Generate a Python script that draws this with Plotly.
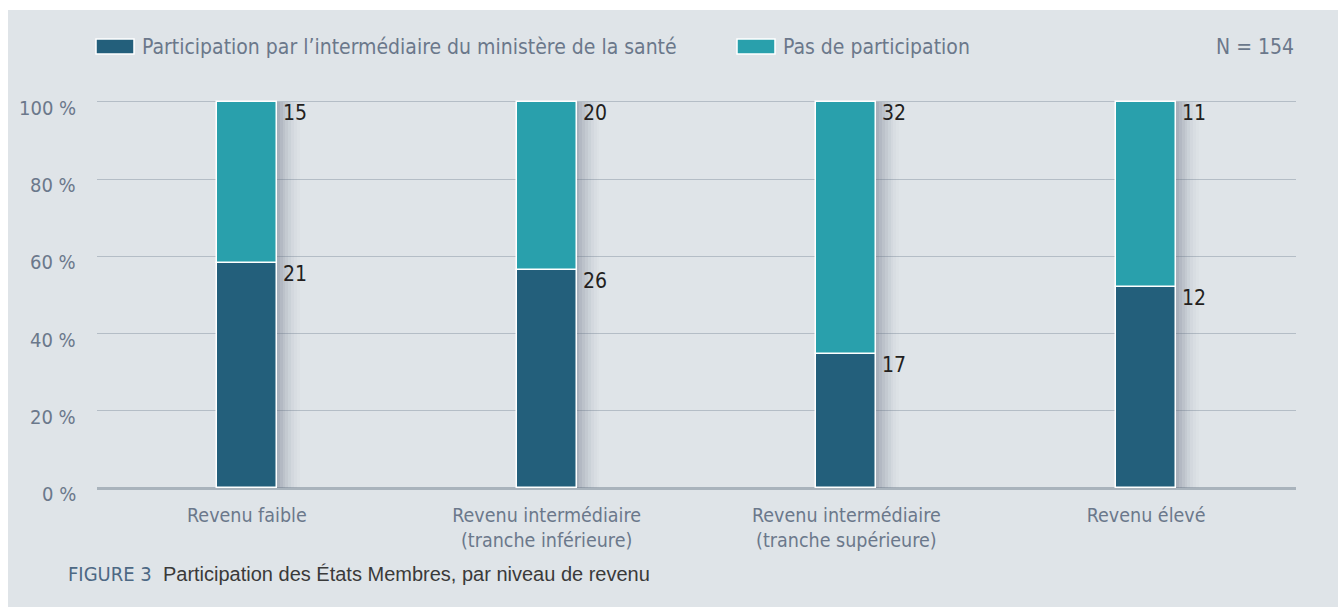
import plotly.graph_objects as go

categories = ["Revenu faible", "Revenu intermédiaire<br>(tranche inférieure)",
              "Revenu intermédiaire<br>(tranche supérieure)", "Revenu élevé"]
participation = [21, 26, 17, 12]
no_participation = [15, 20, 32, 11]
series_names = ["Participation par l’intermédiaire du ministère de la santé", "Pas de participation"]
y_ticks = [0, 20, 40, 60, 80, 100]
y_tick_labels = ["0 %", "20 %", "40 %", "60 %", "80 %", "100 %"]
n_total = sum(participation) + sum(no_participation)

DARK = "#235f7b"
LIGHT = "#29a0ac"
BG = "#dfe4e8"
AXIS_TXT = "#6b788b"
FONT = "DejaVu Sans Condensed, Roboto, sans-serif"

totals = [a + b for a, b in zip(participation, no_participation)]
pct_dark = [100 * a / t for a, t in zip(participation, totals)]
pct_light = [100 * b / t for b, t in zip(no_participation, totals)]
xs = list(range(len(categories)))
BW = 0.2

fig = go.Figure()

# soft shadow to the right of each bar
n_strips = 8
strip_w = 0.0095
for k in range(n_strips):
    alpha = 0.42 * (1 - k / n_strips) ** 1.5
    fig.add_trace(go.Bar(
        x=[x + BW / 2 + strip_w * (k + 0.5) for x in xs], y=[100] * len(xs), base=0,
        width=strip_w, marker=dict(color=f"rgba(95,105,125,{alpha:.3f})", line=dict(width=0)),
        showlegend=False, hoverinfo="skip"))

fig.add_trace(go.Bar(
    x=xs, y=pct_dark, base=0, width=BW, name=series_names[0],
    marker=dict(color=DARK, line=dict(color="white", width=1.5)),
    showlegend=False))
fig.add_trace(go.Bar(
    x=xs, y=pct_light, base=pct_dark, width=BW, name=series_names[1],
    marker=dict(color=LIGHT, line=dict(color="white", width=1.5)),
    showlegend=False))

# value labels
for x, pd_, pl, a, b in zip(xs, pct_dark, pct_light, participation, no_participation):
    for top, val in ((pd_ + pl, b), (pd_, a)):
        fig.add_annotation(x=x + BW / 2, y=top, text=str(val), showarrow=False,
                           xanchor="left", yanchor="top", xshift=4, yshift=3,
                           font=dict(family=FONT, size=21, color="#231f20"))

# y tick labels (slightly below gridlines, as in the reference)
for v, lab in zip(y_ticks, y_tick_labels):
    fig.add_annotation(xref="paper", x=-0.0158, y=v, text=lab, showarrow=False,
                       xanchor="right", yanchor="middle", yshift=-6,
                       font=dict(family=FONT, size=20, color=AXIS_TXT))

W, H = 1338, 609
L, R, T, B = 97, 42, 98, 121
pw, ph = W - L - R, H - T - B


def px(xp):
    return (xp - L) / pw


def py(yp):
    return (H - B - yp) / ph


shapes = [
    dict(type="rect", xref="paper", yref="paper", x0=px(8), x1=px(1340), y0=py(607), y1=py(10),
         fillcolor=BG, line=dict(width=0), layer="below"),
    dict(type="rect", xref="paper", yref="paper", x0=px(96), x1=px(134), y0=py(54), y1=py(39),
         fillcolor=DARK, line=dict(color="white", width=1.5)),
    dict(type="rect", xref="paper", yref="paper", x0=px(737), x1=px(775), y0=py(54), y1=py(39),
         fillcolor=LIGHT, line=dict(color="white", width=1.5)),
]

fig.add_annotation(xref="paper", yref="paper", x=px(140), y=py(46.5), text=series_names[0],
                   showarrow=False, xanchor="left", yanchor="middle",
                   font=dict(family=FONT, size=21, color=AXIS_TXT))
fig.add_annotation(xref="paper", yref="paper", x=px(781), y=py(46.5), text=series_names[1],
                   showarrow=False, xanchor="left", yanchor="middle",
                   font=dict(family=FONT, size=21, color=AXIS_TXT))
fig.add_annotation(xref="paper", yref="paper", x=1.0, y=py(46.5), text=f"N = {n_total}",
                   showarrow=False, xanchor="right", yanchor="middle",
                   font=dict(family=FONT, size=21, color=AXIS_TXT))
fig.add_annotation(xref="paper", yref="paper", x=px(66), y=py(574),
                   text=("<span style='font-family:DejaVu Sans Condensed;color:#4d6884'>FIGURE 3</span>"
                         "  Participation des États Membres, par niveau de revenu"),
                   showarrow=False, xanchor="left", yanchor="middle",
                   font=dict(family="Liberation Sans, Arial, sans-serif", size=20, color="#3a3a3a"))

fig.update_layout(
    width=W, height=H,
    margin=dict(l=L, r=R, t=T, b=B, pad=0),
    paper_bgcolor="white", plot_bgcolor="rgba(0,0,0,0)",
    barmode="overlay", bargap=0,
    shapes=shapes, showlegend=False,
    font=dict(family=FONT, size=18, color=AXIS_TXT),
)
fig.update_xaxes(range=[-0.5, 3.5], tickvals=xs, ticktext=categories, showgrid=False,
                 zeroline=False, showline=False, ticks="", ticklabelstandoff=13,
                 tickfont=dict(family=FONT, size=19.5, color=AXIS_TXT), fixedrange=True)
fig.update_yaxes(range=[0, 101], tickvals=y_ticks, showticklabels=False, showgrid=True,
                 gridcolor="#b4bdc6", gridwidth=1, zeroline=True, zerolinecolor="#a9b3bc",
                 zerolinewidth=3, showline=False, fixedrange=True)

fig.write_html("out.html", config={"displayModeBar": False},
               post_script="document.body.style.margin='0px';")
